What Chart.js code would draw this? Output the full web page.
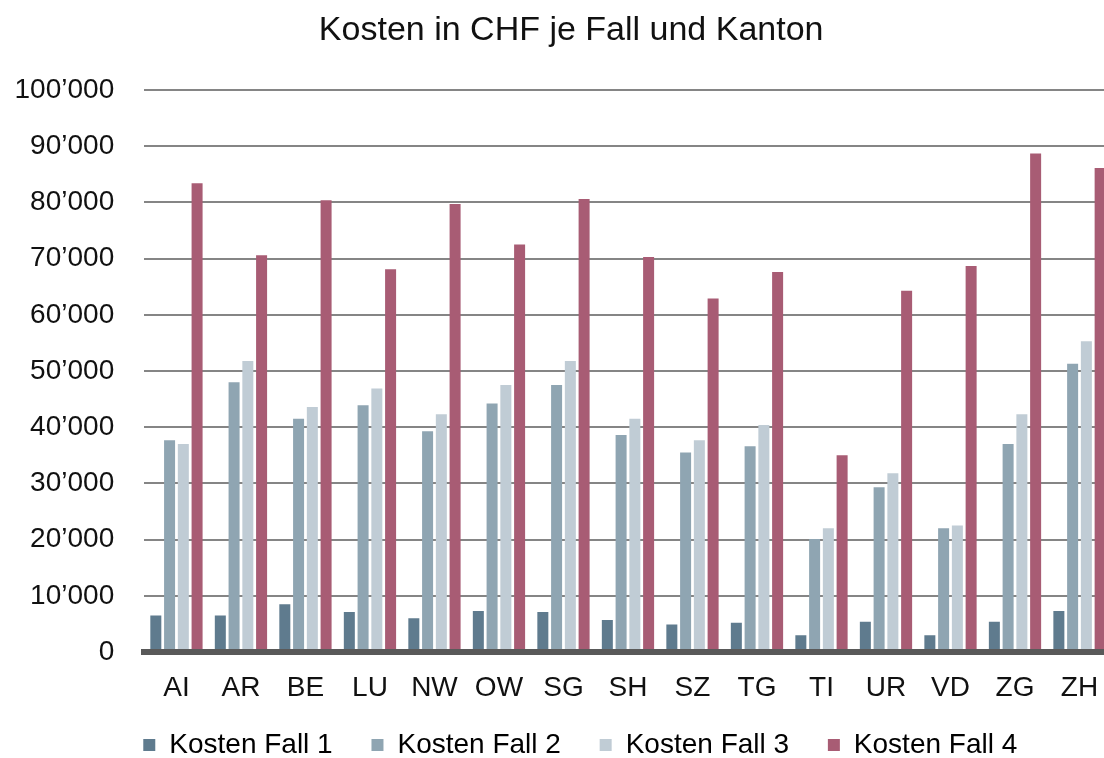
<!DOCTYPE html>
<html>
<head>
<meta charset="utf-8">
<script src="https://cdn.jsdelivr.net/npm/chart.js@4/dist/chart.umd.min.js"></script>
<style>
  html, body { margin: 0; padding: 0; overflow: hidden; background: #fff; }
  #wrap { width: 1145px; height: 769px; }
</style>
</head>
<body>
<div id="wrap"><canvas id="chart"></canvas></div>
<script>
// ── Data ──
const kantone = ['AI', 'AR', 'BE', 'LU', 'NW', 'OW', 'SG', 'SH', 'SZ', 'TG', 'TI', 'UR', 'VD', 'ZG', 'ZH'];
const fall1 = [6500, 6500, 8500, 7100, 6000, 7300, 7100, 5700, 4900, 5200, 3000, 5400, 3000, 5400, 7300];
const fall2 = [37700, 48000, 41500, 43900, 39300, 44200, 47500, 38600, 35500, 36600, 20100, 29300, 22000, 37000, 51300];
const fall3 = [37000, 51800, 43600, 46900, 42300, 47500, 51800, 41500, 37700, 40400, 22000, 31800, 22500, 42300, 55300];
const fall4 = [83400, 70600, 80400, 68100, 79700, 72500, 80600, 70300, 62900, 67600, 35000, 64300, 68700, 88700, 86100];
const yTickLabels = ['0', '10\u2019000', '20\u2019000', '30\u2019000', '40\u2019000', '50\u2019000',
                     '60\u2019000', '70\u2019000', '80\u2019000', '90\u2019000', '100\u2019000'];

const seriesNames  = ['Kosten Fall 1', 'Kosten Fall 2', 'Kosten Fall 3', 'Kosten Fall 4'];
const seriesColors = ['#5F7B8E', '#8FA5B2', '#C0CCD5', '#A85C74'];

const FONT = 'Liberation Sans, Arial, sans-serif';

// nudge title and legend a bit to the right, like in the original
const boxShift = {
  id: 'boxShift',
  afterLayout(chart) {
    chart.titleBlock.left += 8;
    chart.titleBlock.right += 8;
    chart.legend.left += 21;
    chart.legend.right += 21;
  }
};

const ctx = document.getElementById('chart').getContext('2d');
new Chart(ctx, {
  type: 'bar',
  data: {
    labels: kantone,
    datasets: [fall1, fall2, fall3, fall4].map((d, i) => ({
      label: seriesNames[i],
      data: d,
      backgroundColor: seriesColors[i],
      borderWidth: 0,
      barPercentage: 0.8,
      categoryPercentage: 0.853,
    }))
  },
  plugins: [boxShift],
  options: {
    responsive: true,
    maintainAspectRatio: false,
    animation: false,
    layout: { padding: { left: 14.6, right: 33.25, top: 0, bottom: 0 } },
    scales: {
      x: {
        grid: { display: false, drawTicks: false },
        border: { display: true, color: '#595959', width: 6, z: 1 },
        ticks: {
          autoSkip: false, maxRotation: 0, padding: 19.2,
          color: '#111', font: { family: FONT, size: 28 }
        },
        afterFit: s => { s.height = 48; }
      },
      y: {
        min: 0, max: 100000,
        border: { display: false },
        grid: { color: '#858585', lineWidth: 2, drawTicks: false },
        ticks: {
          stepSize: 10000, padding: 30,
          color: '#111', font: { family: FONT, size: 28 },
          callback: (v, i) => yTickLabels[i]
        },
        afterFit: s => { s.width = 129.6; }
      }
    },
    plugins: {
      title: {
        display: true,
        text: 'Kosten in CHF je Fall und Kanton',
        color: '#111',
        font: { family: FONT, size: 34, weight: 'normal' },
        padding: { top: 10.6, bottom: 38.6 }
      },
      legend: {
        position: 'bottom',
        labels: {
          boxWidth: 12, boxHeight: 12, padding: 31,
          color: '#111', font: { family: FONT, size: 28 },
          generateLabels: chart => chart.data.datasets.map((ds, i) => ({
            text: ds.label + ' ',
            fillStyle: ds.backgroundColor,
            strokeStyle: ds.backgroundColor,
            lineWidth: 0,
            datasetIndex: i,
            hidden: false
          }))
        }
      },
      tooltip: { enabled: false }
    }
  }
});
</script>
</body>
</html>
